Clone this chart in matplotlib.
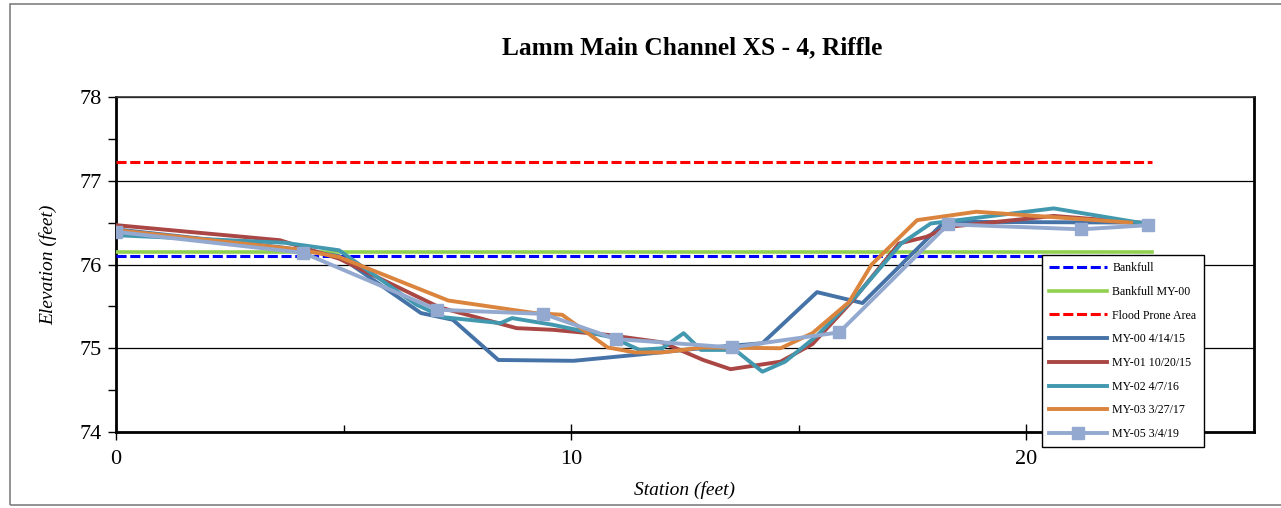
import matplotlib
matplotlib.use("Agg")
import matplotlib.pyplot as plt
from matplotlib.patches import Rectangle
from matplotlib.ticker import MultipleLocator

plt.rcParams['font.family'] = ['Liberation Serif', 'DejaVu Serif']

# ---- data ----
bankfull_x = [0, 22.75]
bankfull_y = [76.10, 76.10]
bankfull_my00_x = [0, 22.75]
bankfull_my00_y = [76.15, 76.15]
flood_x = [0, 22.75]
flood_y = [77.22, 77.22]

my00_x = [0, 3.7, 4.9, 6.7, 7.4, 8.4, 10.05, 11.4, 12.85, 14.2, 15.4, 16.4, 18.2, 22.7]
my00_y = [76.42, 76.20, 76.10, 75.42, 75.34, 74.86, 74.85, 74.92, 75.00, 75.06, 75.67, 75.54, 76.51, 76.50]

my01_x = [0, 3.6, 4.9, 7.1, 8.8, 9.6, 10.8, 12.0, 12.9, 13.5, 14.6, 15.3, 16.2, 17.2, 17.8, 18.3, 20.6, 22.7]
my01_y = [76.47, 76.29, 76.07, 75.49, 75.24, 75.22, 75.16, 75.07, 74.86, 74.75, 74.84, 75.05, 75.58, 76.25, 76.33, 76.45, 76.58, 76.49]

my02_x = [0, 3.7, 4.9, 6.6, 7.2, 8.45, 8.7, 9.6, 10.9, 11.5, 12.0, 12.47, 12.85, 13.6, 14.2, 14.7, 15.4, 16.3, 17.25, 17.9, 20.6, 22.7]
my02_y = [76.35, 76.26, 76.17, 75.52, 75.37, 75.30, 75.36, 75.28, 75.13, 74.98, 75.00, 75.18, 74.98, 74.98, 74.72, 74.84, 75.15, 75.65, 76.25, 76.49, 76.67, 76.48]

my03_x = [0, 4.0, 4.9, 7.3, 9.2, 9.8, 10.8, 11.4, 12.0, 12.9, 14.6, 15.3, 16.1, 16.6, 17.6, 18.9, 22.3]
my03_y = [76.41, 76.18, 76.09, 75.57, 75.42, 75.40, 75.01, 74.95, 74.95, 75.01, 75.00, 75.18, 75.55, 76.00, 76.53, 76.63, 76.50]

my05_x = [0, 4.11, 7.06, 9.39, 10.98, 13.53, 15.89, 18.28, 21.21, 22.68]
my05_y = [76.39, 76.14, 75.46, 75.41, 75.11, 75.01, 75.19, 76.48, 76.42, 76.47]

labels = ["Bankfull", "Bankfull MY-00", "Flood Prone Area", "MY-00 4/14/15",
          "MY-01 10/20/15", "MY-02 4/7/16", "MY-03 3/27/17", "MY-05 3/4/19"]

fig = plt.figure(figsize=(12.81, 5.08), dpi=100)
# outer gray frame
fig.patches.append(Rectangle((10/1281, 1-505/508), 1.2, (505-4)/508, transform=fig.transFigure,
                             fill=False, edgecolor='#808080', lw=1.2, zorder=0))

ax = fig.add_axes([116/1281, 1-432/508, (1254-116)/1281, (432-97)/508])

h1, = ax.plot(bankfull_x, bankfull_y, color='#0000FF', lw=2.2, ls=(0, (3.3, 1.2)), zorder=4)
h2, = ax.plot(bankfull_my00_x, bankfull_my00_y, color='#92D050', lw=2.6, zorder=3)
h3, = ax.plot(flood_x, flood_y, color='#FF0000', lw=2.2, ls=(0, (3.3, 1.2)), zorder=3)
lw = 2.8
h4, = ax.plot(my00_x, my00_y, color='#4572A7', lw=lw, zorder=5)
h5, = ax.plot(my01_x, my01_y, color='#AA4643', lw=lw, zorder=6)
h6, = ax.plot(my02_x, my02_y, color='#4198AF', lw=lw, zorder=7)
h7, = ax.plot(my03_x, my03_y, color='#DB843D', lw=lw, zorder=8)
h8, = ax.plot(my05_x, my05_y, color='#93A9CF', lw=lw, marker='s', markersize=9, zorder=9)

ax.set_xlim(0, 25)
ax.set_ylim(74, 78)
ax.xaxis.set_major_locator(MultipleLocator(10))
ax.xaxis.set_minor_locator(MultipleLocator(5))
ax.yaxis.set_major_locator(MultipleLocator(1))
ax.yaxis.set_minor_locator(MultipleLocator(0.5))
ax.grid(axis='y', which='major', color='black', lw=0.9, zorder=1)
ax.set_axisbelow(True)
ax.tick_params(axis='y', which='both', direction='out', length=6, width=1, labelsize=16, pad=4)
ax.tick_params(axis='x', which='major', direction='inout', length=12, width=1, labelsize=16, pad=7)
ax.tick_params(axis='x', which='minor', direction='in', length=5, width=1)
for s in ['left', 'bottom', 'right']:
    ax.spines[s].set_linewidth(2)
    ax.spines[s].set_color('black')
ax.spines['top'].set_linewidth(1.2)
ax.spines['top'].set_color('#333333')

ax.set_xlabel('Station (feet)', fontsize=14, style='italic', labelpad=9)
ax.set_ylabel('Elevation (feet)', fontsize=14, style='italic', labelpad=16)
fig.text(692/1281, 1-48/508, 'Lamm Main Channel XS - 4, Riffle', ha='center', va='center',
         fontsize=18.3, fontweight='bold')

leg = ax.legend([h1, h2, h3, h4, h5, h6, h7, h8], labels,
                loc='upper left', bbox_to_anchor=(1042/1281, 1-255/508),
                bbox_transform=fig.transFigure, fontsize=8.6, frameon=True, fancybox=False,
                edgecolor='black', framealpha=1, handlelength=4.8, handletextpad=0.5,
                labelspacing=0.98, borderpad=0.6, borderaxespad=0)
leg.get_frame().set_linewidth(1.0)
leg.set_zorder(20)

fig.savefig('out.png', dpi=100)
